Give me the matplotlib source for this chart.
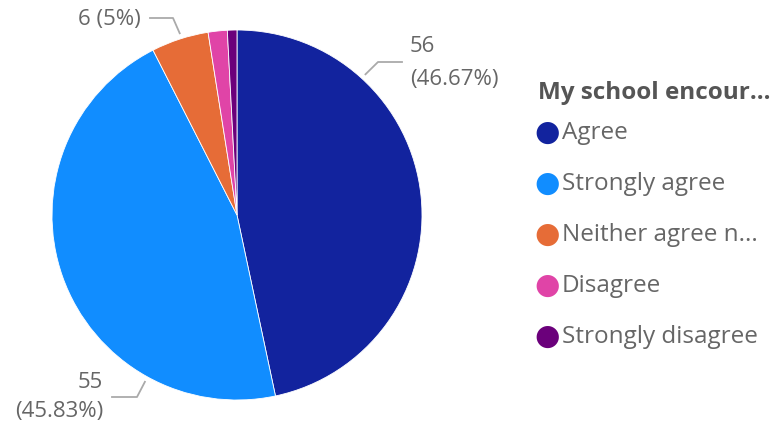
import matplotlib.pyplot as plt
import numpy as np

# --- Data ---
categories = ["Agree", "Strongly agree", "Neither agree nor disagree", "Disagree", "Strongly disagree"]
legend_labels = ["Agree", "Strongly agree", "Neither agree n...", "Disagree", "Strongly disagree"]
counts = [56, 55, 6, 2, 1]
colors = ["#12239E", "#118DFF", "#E66C37", "#E044A7", "#6B007B"]
legend_title = "My school encour..."

plt.rcParams['font.family'] = ['Open Sans', 'DejaVu Sans']
W, H = 782, 430
fig = plt.figure(figsize=(W / 100, H / 100), dpi=100)

# pie centre (237, 215) px, radius 185 px
cx, cy, r = 237, 215, 185
ax = fig.add_axes([(cx - r) / W, (H - cy - r) / H, 2 * r / W, 2 * r / H])
wedges, _ = ax.pie(counts, colors=colors, startangle=90, counterclock=False,
                   wedgeprops=dict(linewidth=0.6, edgecolor="white"))
ax.set_xlim(-1, 1)
ax.set_ylim(-1, 1)
ax.set_aspect("equal")
ax.axis("off")

total = sum(counts)
grey = "#666666"
line_c = "#AAAAAA"
lab_fs = 16
leg_fs = 17.5


def px(x, y):
    # pixel coords -> data coords of the pie axes
    return (x - cx) / r, (cy - y) / r


def leader(ang_deg, knee, end):
    # leader line from just outside the rim to knee then end (pixel coords)
    ang = np.deg2rad(ang_deg)
    p0 = (np.cos(ang) * 1.03, np.sin(ang) * 1.03)
    k = px(*knee)
    e = px(*end)
    ax.plot([p0[0], k[0], e[0]], [p0[1], k[1], e[1]], color=line_c, lw=1.3,
            clip_on=False)


def pct(v):
    p = v / total * 100
    s = f"{p:.2f}".rstrip("0").rstrip(".")
    return f"({s}%)"


# Agree label (upper right)
leader(47.6, (378, 62), (402, 62))
fig.text(410 / W, 1 - 47 / H, str(counts[0]), color=grey, fontsize=lab_fs, va="center", ha="left")
fig.text(410 / W, 1 - 79 / H, pct(counts[0]), color=grey, fontsize=lab_fs, va="center", ha="left")

# Strongly agree label (lower left)
leader(-118.9, (137, 397), (112, 397))
fig.text(103 / W, 1 - 383 / H, str(counts[1]), color=grey, fontsize=lab_fs, va="center", ha="right")
fig.text(103 / W, 1 - 411 / H, pct(counts[1]), color=grey, fontsize=lab_fs, va="center", ha="right")

# Neither label (top)
leader(107.5, (173, 18), (150, 18))
fig.text(141 / W, 1 - 19 / H, f"{counts[2]} {pct(counts[2])}", color=grey, fontsize=lab_fs,
         va="center", ha="right")

# --- Legend ---
fig.text(538 / W, 1 - 93 / H, legend_title, color="#555555", fontsize=leg_fs,
         fontweight="bold", va="center", ha="left")
for j, (lab, col) in enumerate(zip(legend_labels, colors)):
    y = 133 + j * 51
    fig.text(547 / W, 1 - y / H, "\u25CF", color=col, fontsize=21, va="center", ha="center")
    fig.text(562 / W, 1 - y / H, lab, color=grey, fontsize=leg_fs, va="center", ha="left")

fig.savefig("out.png", dpi=100)
